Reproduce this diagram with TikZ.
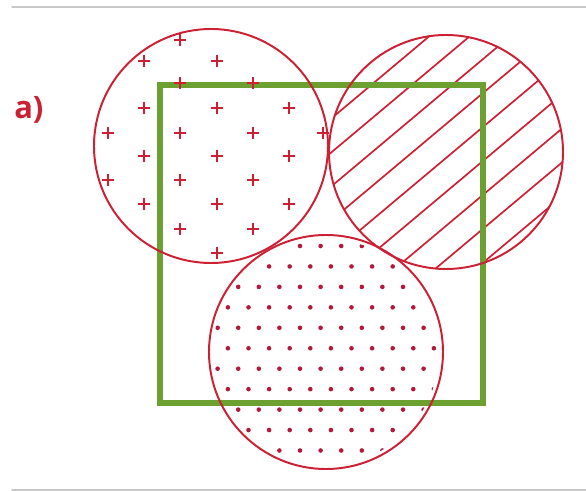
\documentclass[tikz,border=0pt]{standalone}
\usepackage{fontspec}
\setmainfont{Open Sans}
\begin{document}
\begin{tikzpicture}
% Three patterned sets over a square
\def\px{0.025cm}
\definecolor{vennRed}{RGB}{204,32,52}
\definecolor{vennDot}{RGB}{180,24,58}
\definecolor{vennGreen}{RGB}{108,160,48}
\definecolor{ruleGray}{RGB}{200,200,200}
\providecommand{\vennLineWidth}{1.4pt}
\providecommand{\vennSquareWidth}{3.6pt}
\begin{scope}[x=\px, y=-\px, line cap=round, line join=round]
  \useasboundingbox (0,0) rectangle (586,491);
  % Page rules
  \draw[ruleGray, line width=1pt] (12,7) -- (586,7);
  \draw[ruleGray, line width=1pt] (12,490) -- (586,490);
  % Label
  \node[text=vennRed, font=\bfseries\fontsize{22}{22}\selectfont, anchor=west, inner sep=0pt] (lbl) at (14,110) {a)};
  % Circle centres
  \coordinate (cl) at (211,146);
  \coordinate (cr) at (446,152);
  \coordinate (cb) at (326,352);
  % Hatched circle
  \begin{scope}
    \clip (cr) circle (117);
    \begin{scope}[shift={(cr)}, rotate=40]
      \foreach \k in {-5,...,5}
        \draw[vennRed, line width=1.2pt] (-140,{4.6+26*\k}) -- (140,{4.6+26*\k});
    \end{scope}
  \end{scope}
  % Dotted circle
  \begin{scope}
    \clip (cb) circle (113);
    \foreach \i in {0,...,10}
      \foreach \m in {-5,...,7}
        \fill[vennDot] ({300+20.6*\m+10.3*mod(\i,2)},{246+20.45*\i}) circle (2.3);
  \end{scope}
  % Square
  \draw[vennGreen, line width=\vennSquareWidth, line cap=butt, line join=miter] (160,85) rectangle (483,403);
  % Plus marks
  \begin{scope}[draw=vennRed, line width=1.5pt, line cap=butt]
    \foreach \x/\y in {180/40,
                       144/61, 217/61,
                       180/83, 253/83,
                       144/108, 217/108, 289/108,
                       108/133, 180/133, 253/133, 323/133,
                       144/156, 217/156, 289/156,
                       108/180, 180/180, 253/180,
                       144/204, 217/204, 289/204,
                       180/229, 253/229,
                       217/253}
      \draw (\x-6,\y) -- (\x+6,\y) (\x,\y-6) -- (\x,\y+6);
  \end{scope}
  % Outlines
  \begin{scope}[draw=vennRed, line width=\vennLineWidth]
    \draw (cl) circle (117);
    \draw (cr) circle (117);
    \draw (cb) circle (117);
  \end{scope}
\end{scope}
\end{tikzpicture}
\end{document}
